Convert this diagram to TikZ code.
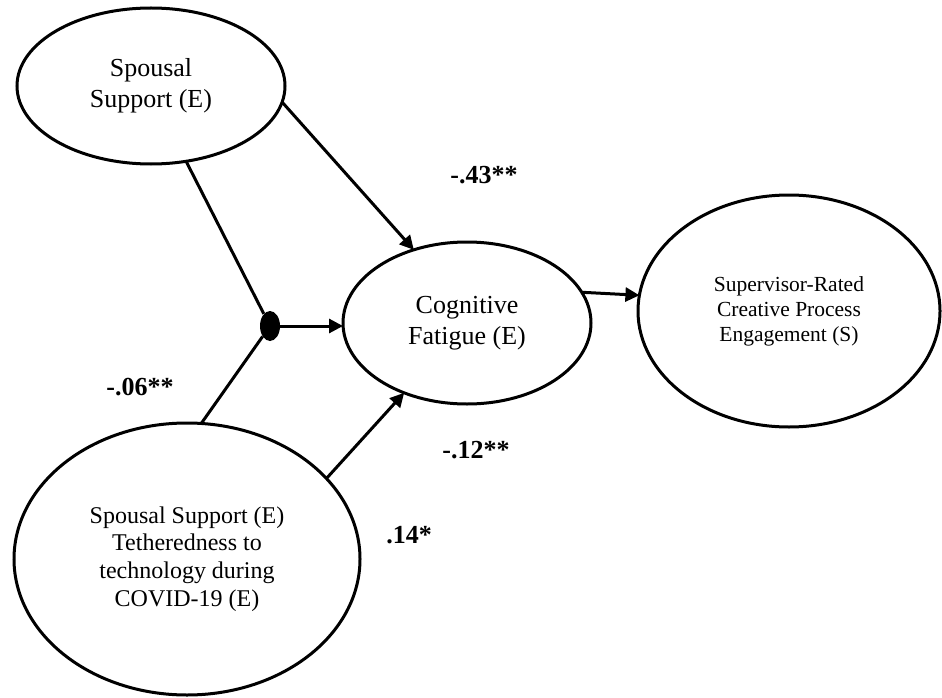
\documentclass[tikz,border=0pt]{standalone}
\usepackage{fontspec}
\setmainfont{Liberation Serif}
\usetikzlibrary{shapes.geometric,arrows.meta}
\begin{document}
\begin{tikzpicture}[x=1pt,y=-1pt,
  latent/.style={ellipse, draw, line width=3pt, inner sep=0pt, outer sep=0pt, align=center},
  conn/.style={line width=3pt},
  arr/.style={conn, -{Triangle[length=14pt,width=14pt]}},
  coef/.style={font=\fontsize{26}{30}\selectfont\bfseries, inner sep=0pt}]
\useasboundingbox[fill=white] (0,0) rectangle (942,698);
% latent variables
\node[latent, minimum width=268pt, minimum height=156pt, font=\fontsize{26}{31}\selectfont] (sp) at (151,86) {Spousal\\Support (E)};
\node[latent, minimum width=248pt, minimum height=162pt, font=\fontsize{26}{31}\selectfont] (cog) at (467,323) {Cognitive\\Fatigue (E)};
\node[latent, minimum width=302pt, minimum height=232pt, font=\fontsize{21.5}{25}\selectfont] (sup) at (789,311) {Supervisor-Rated\\Creative Process\\Engagement (S)};
\node[latent, minimum width=346pt, minimum height=272pt, font=\fontsize{24}{27.6}\selectfont] (bt) at (187,559) {Spousal Support (E)\\Tetheredness to\\technology during\\COVID-19 (E)};
% interaction point
\node[ellipse, fill=black, draw=none, minimum width=20pt, minimum height=30pt, inner sep=0pt] (dot) at (270,326) {};
% connectors
\draw[conn] (sp.-65) -- (dot);
\draw[conn] (bt.84.5) -- (dot);
\draw[arr] (dot) -- (dot -| cog.west);
\draw[arr] (sp.-7) -- (cog.126);
\draw[arr] (bt.30.2) -- (cog.-132);
\draw[arr] (cog.15.2) -- (sup.174.4);
% coefficients
\node[coef] (c1) at (484,175) {-.43**};
\node[coef] (c2) at (140,387) {-.06**};
\node[coef] (c3) at (476,450) {-.12**};
\node[coef] (c4) at (409,535) {.14*};
\end{tikzpicture}
\end{document}
